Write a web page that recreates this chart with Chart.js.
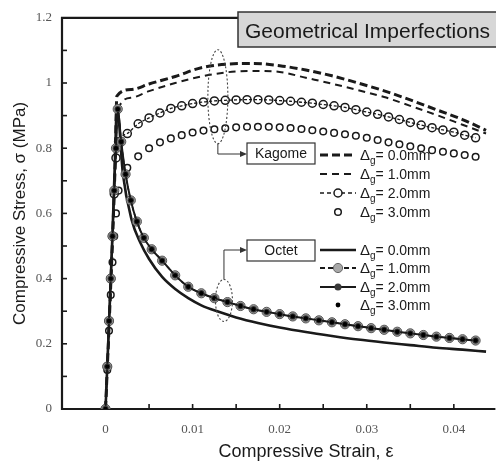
<!DOCTYPE html>
<html>
<head>
<meta charset="utf-8">
<script src="https://cdn.jsdelivr.net/npm/chart.js@4.4.1/dist/chart.umd.min.js"></script>
<style>
  html, body { margin: 0; padding: 0; background: #fff; overflow: hidden; }
  canvas { display: block; }
</style>
</head>
<body>
<canvas id="stressChart" width="496" height="466"></canvas>
<script>
// ---- strain (mm/mm) / stress (MPa) readings ----
var kagomeStrain = [0, 0.0004, 0.0008, 0.0011, 0.0013, 0.003, 0.005, 0.008, 0.011, 0.014, 0.017, 0.020,
    0.023, 0.026, 0.029, 0.032, 0.035, 0.038, 0.041, 0.0437];
var kagome00 = [0, 0.25, 0.52, 0.75, 0.96, 0.98, 0.997, 1.02, 1.047, 1.058, 1.06, 1.053,
    1.04, 1.022, 1.0, 0.976, 0.948, 0.918, 0.888, 0.855];
var kagome10 = [0, 0.24, 0.5, 0.72, 0.91, 0.955, 0.975, 1.0, 1.02, 1.033, 1.037, 1.034,
    1.016, 0.998, 0.978, 0.957, 0.93, 0.902, 0.872, 0.845];

var kagomeMarkStrain = [0, 0.0002, 0.0004, 0.0006, 0.0008, 0.001, 0.0012, 0.0015,
    0.0025, 0.00375, 0.005, 0.00625, 0.0075, 0.00875, 0.01, 0.01125, 0.0125, 0.01375, 0.015,
    0.01625, 0.0175, 0.01875, 0.02, 0.02125, 0.0225, 0.02375, 0.025, 0.02625, 0.0275, 0.02875,
    0.03, 0.03125, 0.0325, 0.03375, 0.035, 0.03625, 0.0375, 0.03875, 0.04, 0.04125, 0.0425];
var kagome20 = [0, 0.13, 0.27, 0.4, 0.53, 0.66, 0.77, 0.82,
    0.845, 0.875, 0.893, 0.908, 0.922, 0.93, 0.937, 0.942, 0.945, 0.947, 0.948,
    0.949, 0.949, 0.948, 0.946, 0.944, 0.941, 0.938, 0.934, 0.93, 0.925, 0.918,
    0.911, 0.904, 0.896, 0.888, 0.879, 0.871, 0.863, 0.856, 0.849, 0.84, 0.832];
var kagome30 = [0, 0.12, 0.24, 0.35, 0.45, 0.53, 0.6, 0.67,
    0.74, 0.775, 0.8, 0.818, 0.83, 0.84, 0.848, 0.854, 0.858, 0.861, 0.864,
    0.866, 0.866, 0.866, 0.864, 0.862, 0.859, 0.855, 0.851, 0.847, 0.843, 0.838,
    0.832, 0.825, 0.818, 0.812, 0.806, 0.8, 0.794, 0.789, 0.784, 0.779, 0.774];

var octetStrain = [0, 0.0004, 0.0008, 0.0011, 0.0013, 0.002, 0.003, 0.004, 0.005, 0.0065, 0.008,
    0.0095, 0.011, 0.013, 0.015, 0.0175, 0.02, 0.023, 0.026, 0.029, 0.032, 0.035, 0.038, 0.041, 0.0437];
var octet00 = [0, 0.26, 0.54, 0.78, 0.93, 0.72, 0.58, 0.51, 0.46, 0.405, 0.368,
    0.34, 0.318, 0.298, 0.281, 0.264, 0.25, 0.236, 0.224, 0.213, 0.204, 0.196, 0.188, 0.182, 0.176];

// the 1.0, 2.0 and 3.0 mm octet curves lie on top of each other
var octetMarkStrain = [0, 0.0002, 0.0004, 0.0006, 0.0008, 0.001, 0.0012, 0.0014,
    0.0018, 0.0023, 0.0029, 0.0036, 0.0044, 0.0053, 0.0065, 0.008, 0.0095, 0.011, 0.0125,
    0.014, 0.0155, 0.017, 0.0185, 0.02, 0.0215, 0.023, 0.0245, 0.026, 0.0275, 0.029, 0.0305,
    0.032, 0.0335, 0.035, 0.0365, 0.038, 0.0395, 0.041, 0.0425];
var octetImperfect = [0, 0.13, 0.27, 0.4, 0.53, 0.67, 0.8, 0.92,
    0.82, 0.72, 0.64, 0.575, 0.525, 0.49, 0.455, 0.41, 0.375, 0.355, 0.34,
    0.328, 0.316, 0.306, 0.298, 0.291, 0.284, 0.278, 0.272, 0.266, 0.26, 0.254, 0.248,
    0.243, 0.237, 0.232, 0.227, 0.222, 0.218, 0.214, 0.21];

var xTickValues = [0, 0.01, 0.02, 0.03, 0.04];
var xTickLabels = ['0', '0.01', '0.02', '0.03', '0.04'];
var xTickMarks = [0, 0.005, 0.01, 0.015, 0.02, 0.025, 0.03, 0.035, 0.04];
var yTickValues = [0, 0.2, 0.4, 0.6, 0.8, 1, 1.2];
var yTickLabels = ['0', '0.2', '0.4', '0.6', '0.8', '1', '1.2'];
var yTickMarks = [0, 0.1, 0.2, 0.3, 0.4, 0.5, 0.6, 0.7, 0.8, 0.9, 1, 1.1, 1.2];

var gapLabels = ['0.0mm', '1.0mm', '2.0mm', '3.0mm'];

var SANS = '"Liberation Sans", Arial, sans-serif';
var SERIF = '"Liberation Serif", "Times New Roman", serif';
var INK = '#1a1a1a';

function pts(xs, ys) {
    return xs.map(function (x, i) { return { x: x, y: ys[i] }; });
}

function lineSet(xs, ys, width, dash) {
    return {
        data: pts(xs, ys), showLine: true, borderColor: INK, borderWidth: width, borderDash: dash,
        pointRadius: 0, tension: 0.4, cubicInterpolationMode: 'monotone'
    };
}

var datasets = [
    // octet 3.0 mm: small black dots
    { data: pts(octetMarkStrain, octetImperfect), showLine: false, pointRadius: 2.2,
      pointBackgroundColor: '#000', pointBorderWidth: 0 },
    // octet 2.0 mm: solid line, dark dots
    { data: pts(octetMarkStrain, octetImperfect), showLine: true, borderColor: INK, borderWidth: 2,
      cubicInterpolationMode: 'monotone', pointRadius: 3.2, pointBackgroundColor: '#3a3a3a',
      pointBorderColor: '#3a3a3a', pointBorderWidth: 0 },
    // octet 1.0 mm: dashed line, grey circles
    { data: pts(octetMarkStrain, octetImperfect), showLine: true, borderColor: INK, borderWidth: 1.5,
      borderDash: [4, 3], cubicInterpolationMode: 'monotone', pointRadius: 4.6,
      pointBackgroundColor: '#9a9a9a', pointBorderColor: '#555', pointBorderWidth: 1 },
    lineSet(octetStrain, octet00, 2.6, []),
    // kagome 3.0 mm: open circles only
    { data: pts(kagomeMarkStrain, kagome30), showLine: false, pointRadius: 3.3,
      pointBackgroundColor: 'transparent', pointBorderColor: INK, pointBorderWidth: 1.5 },
    // kagome 2.0 mm: open circles on a dashed line
    { data: pts(kagomeMarkStrain, kagome20), showLine: true, borderColor: INK, borderWidth: 1.3,
      borderDash: [3, 2], cubicInterpolationMode: 'monotone', pointRadius: 4,
      pointBackgroundColor: 'transparent', pointBorderColor: INK, pointBorderWidth: 1.5 },
    lineSet(kagomeStrain, kagome10, 2, [7, 5]),
    lineSet(kagomeStrain, kagome00, 3, [8, 4])
];

function deltaText(ctx, x, y, label) {
    ctx.fillStyle = INK;
    ctx.textAlign = 'left';
    ctx.textBaseline = 'alphabetic';
    ctx.font = '15px ' + SANS;
    ctx.fillText('\u0394', x, y + 5);
    var w = ctx.measureText('\u0394').width;
    ctx.font = '10px ' + SANS;
    ctx.fillText('g', x + w, y + 9);
    var wg = ctx.measureText('g').width;
    ctx.font = '14px ' + SANS;
    ctx.fillText('= ' + label, x + w + wg, y + 5);
}

function hLine(ctx, x0, x1, y, width, dash) {
    ctx.save();
    ctx.strokeStyle = INK;
    ctx.lineWidth = width;
    ctx.setLineDash(dash);
    ctx.beginPath();
    ctx.moveTo(x0, y);
    ctx.lineTo(x1, y);
    ctx.stroke();
    ctx.restore();
}

function dot(ctx, x, y, r, fill, stroke, width) {
    ctx.beginPath();
    ctx.arc(x, y, r, 0, Math.PI * 2);
    if (fill) { ctx.fillStyle = fill; ctx.fill(); }
    if (stroke) { ctx.strokeStyle = stroke; ctx.lineWidth = width; ctx.stroke(); }
}

function boxLabel(ctx, x, y, w, h, text) {
    ctx.fillStyle = '#fff';
    ctx.fillRect(x, y, w, h);
    ctx.strokeStyle = '#333';
    ctx.lineWidth = 1.2;
    ctx.strokeRect(x, y, w, h);
    ctx.fillStyle = INK;
    ctx.font = '14px ' + SANS;
    ctx.textAlign = 'center';
    ctx.textBaseline = 'middle';
    ctx.fillText(text, x + w / 2, y + h / 2 + 1);
}

function pointer(ctx, pts, tipX) {
    ctx.strokeStyle = '#333';
    ctx.lineWidth = 1;
    ctx.beginPath();
    ctx.moveTo(pts[0][0], pts[0][1]);
    for (var i = 1; i < pts.length; i++) ctx.lineTo(pts[i][0], pts[i][1]);
    ctx.stroke();
    var y = pts[pts.length - 1][1];
    ctx.fillStyle = '#333';
    ctx.beginPath();
    ctx.moveTo(tipX, y);
    ctx.lineTo(tipX - 7, y - 3);
    ctx.lineTo(tipX - 7, y + 3);
    ctx.closePath();
    ctx.fill();
}

function dottedEllipse(ctx, cx, cy, rx, ry) {
    ctx.save();
    ctx.strokeStyle = '#444';
    ctx.lineWidth = 1.1;
    ctx.setLineDash([2, 2]);
    ctx.beginPath();
    ctx.ellipse(cx, cy, rx, ry, 0, 0, Math.PI * 2);
    ctx.stroke();
    ctx.restore();
}

var frameDecor = {
    id: 'frameDecor',
    beforeDatasetsDraw: function (chart) {
        var ctx = chart.ctx, a = chart.chartArea;
        var xs = chart.scales.x, ys = chart.scales.y;
        ctx.save();
        ctx.strokeStyle = INK;
        ctx.lineWidth = 2.2;
        ctx.beginPath();
        ctx.moveTo(a.right + 5, a.top);
        ctx.lineTo(a.left, a.top);
        ctx.lineTo(a.left, a.bottom);
        ctx.lineTo(a.right + 5, a.bottom);
        ctx.stroke();
        ctx.lineWidth = 1.6;
        xTickMarks.forEach(function (v) {
            var px = xs.getPixelForValue(v);
            ctx.beginPath();
            ctx.moveTo(px, a.bottom);
            ctx.lineTo(px, a.bottom - 5);
            ctx.stroke();
        });
        yTickMarks.forEach(function (v) {
            var py = ys.getPixelForValue(v);
            ctx.beginPath();
            ctx.moveTo(a.left, py);
            ctx.lineTo(a.left + 5, py);
            ctx.stroke();
        });
        ctx.restore();
    },
    afterDraw: function (chart) {
        var ctx = chart.ctx, a = chart.chartArea;
        var xs = chart.scales.x, ys = chart.scales.y;
        ctx.save();

        // heading box
        ctx.fillStyle = '#d7d7d7';
        ctx.fillRect(238, 12, 270, 35);
        ctx.strokeStyle = '#333';
        ctx.lineWidth = 1.5;
        ctx.strokeRect(238, 12, 270, 35);
        ctx.fillStyle = INK;
        ctx.font = '21px ' + SANS;
        ctx.textAlign = 'left';
        ctx.textBaseline = 'alphabetic';
        ctx.fillText('Geometrical Imperfections', 245, 38);

        // group markers around the curves
        var kx = xs.getPixelForValue(0.0129), ky = ys.getPixelForValue(0.958);
        dottedEllipse(ctx, kx, ky, 10, 47);
        var ox = xs.getPixelForValue(0.0136), oy = ys.getPixelForValue(0.333);
        dottedEllipse(ctx, ox, oy, 8.5, 21);

        pointer(ctx, [[kx, ky + 47], [kx, 154], [241, 154]], 247);
        pointer(ctx, [[ox, oy - 21], [ox, 250], [241, 250]], 247);
        boxLabel(ctx, 247, 143, 68, 21, 'Kagome');
        boxLabel(ctx, 247, 240, 68, 21, 'Octet');

        // kagome key
        var kRows = [155, 174, 193, 212];
        hLine(ctx, 320, 356, kRows[0], 3, [8, 4]);
        hLine(ctx, 320, 356, kRows[1], 2, [7, 5]);
        hLine(ctx, 320, 356, kRows[2], 1.3, [4, 3]);
        dot(ctx, 338, kRows[2], 4, '#fff', INK, 1.5);
        dot(ctx, 338, kRows[3], 3.3, null, INK, 1.5);
        // octet key
        var oRows = [250, 268, 287, 305];
        hLine(ctx, 320, 356, oRows[0], 2.6, []);
        hLine(ctx, 320, 356, oRows[1], 1.8, [5, 3]);
        dot(ctx, 338, oRows[1], 4.6, '#a8a8a8', '#666', 1);
        hLine(ctx, 320, 356, oRows[2], 2.2, []);
        dot(ctx, 338, oRows[2], 3.5, '#3a3a3a', null, 0);
        dot(ctx, 338, oRows[3], 2.4, '#000', null, 0);

        for (var i = 0; i < gapLabels.length; i++) {
            deltaText(ctx, 360, kRows[i], gapLabels[i]);
            deltaText(ctx, 360, oRows[i], gapLabels[i]);
        }

        // axis titles
        ctx.fillStyle = INK;
        ctx.font = '18px ' + SANS;
        ctx.textAlign = 'center';
        ctx.textBaseline = 'middle';
        ctx.fillText('Compressive Strain, \u03b5', 306, 452);
        ctx.font = '17px ' + SANS;
        ctx.translate(20, (a.top + a.bottom) / 2);
        ctx.rotate(-Math.PI / 2);
        ctx.fillText('Compressive Stress, \u03c3 (MPa)', 0, 0);
        ctx.restore();
    }
};

new Chart(document.getElementById('stressChart'), {
    type: 'scatter',
    data: { datasets: datasets },
    options: {
        responsive: false,
        animation: false,
        events: [],
        layout: { padding: { top: 13, right: 0, left: 0, bottom: 0 } },
        plugins: { legend: { display: false }, tooltip: { enabled: false } },
        scales: {
            x: {
                type: 'linear', min: -0.005, max: 0.0442,
                grid: { display: false, drawTicks: false },
                border: { display: false },
                afterBuildTicks: function (axis) {
                    axis.ticks = xTickValues.map(function (v) { return { value: v }; });
                },
                afterFit: function (axis) { axis.height = 57; },
                ticks: {
                    padding: 13, autoSkip: false, maxRotation: 0, color: '#555',
                    font: { family: SERIF, size: 13 },
                    callback: function (v) {
                        var i = xTickValues.indexOf(v);
                        return i < 0 ? '' : xTickLabels[i];
                    }
                }
            },
            y: {
                type: 'linear', min: 0, max: 1.2,
                grid: { display: false, drawTicks: false },
                border: { display: false },
                afterBuildTicks: function (axis) {
                    axis.ticks = yTickValues.map(function (v) { return { value: v }; });
                },
                afterFit: function (axis) { axis.width = 62; },
                ticks: {
                    padding: 10, autoSkip: false, color: '#555',
                    font: { family: SERIF, size: 13 },
                    callback: function (v) {
                        var i = yTickValues.indexOf(v);
                        return i < 0 ? '' : yTickLabels[i];
                    }
                }
            }
        }
    },
    plugins: [frameDecor]
});
</script>
</body>
</html>
